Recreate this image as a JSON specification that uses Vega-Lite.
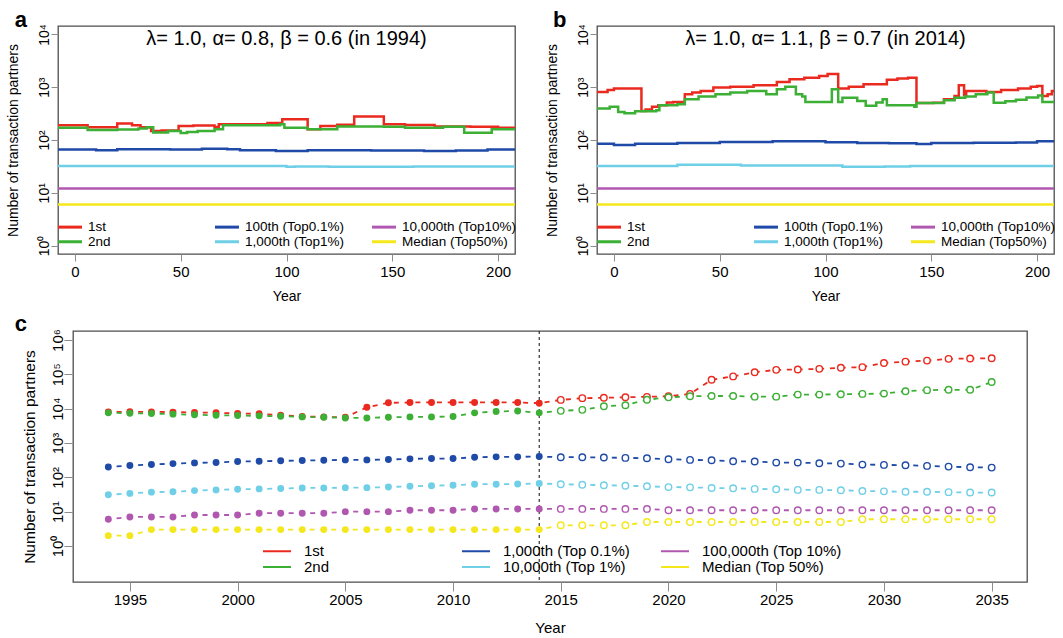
{
"$schema": "https://vega.github.io/schema/vega-lite/v6.json",
"autosize": {"type": "none"},
"padding": {"left": 58, "top": 26, "right": 1005, "bottom": 612},
"background": "white",
"config": {
  "font": "Liberation Sans",
  "view": {"stroke": "#4d4d4d", "strokeWidth": 1.3},
  "axis": {"grid": false, "domain": false, "tickColor": "#8c8c8c", "tickWidth": 1, "labelColor": "#000", "titleColor": "#000", "titleFontWeight": "normal", "labelFont": "Liberation Sans", "titleFont": "Liberation Sans"},
  "legend": {"labelColor": "#000", "labelFont": "Liberation Sans"},
  "title": {"color": "#000", "font": "Liberation Sans"}
},
"datasets": {
"a": [
{"s":"1st","t":-8,"v":191},{"s":"1st","t":6,"v":175},{"s":"1st","t":20,"v":205},{"s":"1st","t":27,"v":190},{"s":"1st","t":31,"v":175},{"s":"1st","t":36,"v":148},{"s":"1st","t":41,"v":152},{"s":"1st","t":49,"v":185},{"s":"1st","t":56,"v":188},{"s":"1st","t":66,"v":176},{"s":"1st","t":68,"v":198},{"s":"1st","t":91,"v":210},{"s":"1st","t":98,"v":246},{"s":"1st","t":110,"v":159},{"s":"1st","t":116,"v":184},{"s":"1st","t":124,"v":195},{"s":"1st","t":132,"v":280},{"s":"1st","t":146,"v":198},{"s":"1st","t":156,"v":192},{"s":"1st","t":170,"v":180},{"s":"1st","t":187,"v":178},{"s":"1st","t":200,"v":170},{"s":"1st","t":208,"v":164},
{"s":"2nd","t":-8,"v":171},{"s":"2nd","t":6,"v":154},{"s":"2nd","t":20,"v":158},{"s":"2nd","t":30,"v":165},{"s":"2nd","t":34,"v":175},{"s":"2nd","t":37,"v":139},{"s":"2nd","t":44,"v":148},{"s":"2nd","t":50,"v":135},{"s":"2nd","t":53,"v":142},{"s":"2nd","t":58,"v":148},{"s":"2nd","t":66,"v":160},{"s":"2nd","t":70,"v":190},{"s":"2nd","t":97,"v":198},{"s":"2nd","t":99,"v":171},{"s":"2nd","t":110,"v":159},{"s":"2nd","t":124,"v":180},{"s":"2nd","t":146,"v":178},{"s":"2nd","t":156,"v":171},{"s":"2nd","t":174,"v":178},{"s":"2nd","t":184,"v":137},{"s":"2nd","t":197,"v":159},{"s":"2nd","t":208,"v":155},
{"s":"100th (Top0.1%)","t":-8,"v":66},{"s":"100th (Top0.1%)","t":10,"v":64},{"s":"100th (Top0.1%)","t":20,"v":67},{"s":"100th (Top0.1%)","t":45,"v":66},{"s":"100th (Top0.1%)","t":60,"v":68},{"s":"100th (Top0.1%)","t":72,"v":67},{"s":"100th (Top0.1%)","t":78,"v":64},{"s":"100th (Top0.1%)","t":95,"v":62},{"s":"100th (Top0.1%)","t":110,"v":64},{"s":"100th (Top0.1%)","t":140,"v":63},{"s":"100th (Top0.1%)","t":165,"v":62},{"s":"100th (Top0.1%)","t":180,"v":63},{"s":"100th (Top0.1%)","t":195,"v":66},{"s":"100th (Top0.1%)","t":208,"v":67},
{"s":"1,000th (Top1%)","t":-8,"v":32},{"s":"1,000th (Top1%)","t":100,"v":31},{"s":"1,000th (Top1%)","t":104,"v":31.5},{"s":"1,000th (Top1%)","t":120,"v":31},{"s":"1,000th (Top1%)","t":160,"v":31.5},{"s":"1,000th (Top1%)","t":208,"v":32},
{"s":"10,000th (Top10%)","t":-8,"v":12},{"s":"10,000th (Top10%)","t":208,"v":12},
{"s":"Median (Top50%)","t":-8,"v":6},{"s":"Median (Top50%)","t":208,"v":6}
],
"b": [
{"s":"1st","t":-8,"v":813},{"s":"1st","t":-3,"v":890},{"s":"1st","t":0,"v":944},{"s":"1st","t":13,"v":355},{"s":"1st","t":15,"v":380},{"s":"1st","t":18,"v":427},{"s":"1st","t":21,"v":455},{"s":"1st","t":25,"v":513},{"s":"1st","t":28,"v":527},{"s":"1st","t":33.5,"v":738},{"s":"1st","t":37,"v":795},{"s":"1st","t":41,"v":850},{"s":"1st","t":47,"v":985},{"s":"1st","t":55,"v":1025},{"s":"1st","t":66,"v":1090},{"s":"1st","t":77,"v":1260},{"s":"1st","t":83,"v":1420},{"s":"1st","t":90,"v":1520},{"s":"1st","t":97,"v":1640},{"s":"1st","t":101,"v":1780},{"s":"1st","t":106,"v":944},{"s":"1st","t":111,"v":1025},{"s":"1st","t":118,"v":1140},{"s":"1st","t":129,"v":1380},{"s":"1st","t":134,"v":1460},{"s":"1st","t":139,"v":1520},{"s":"1st","t":143,"v":500},{"s":"1st","t":151,"v":510},{"s":"1st","t":156,"v":590},{"s":"1st","t":161,"v":685},{"s":"1st","t":163,"v":1095},{"s":"1st","t":165.5,"v":710},{"s":"1st","t":166.5,"v":850},{"s":"1st","t":176,"v":815},{"s":"1st","t":183,"v":890},{"s":"1st","t":191,"v":944},{"s":"1st","t":197,"v":1025},{"s":"1st","t":200,"v":1060},{"s":"1st","t":202.5,"v":685},{"s":"1st","t":205,"v":740},{"s":"1st","t":207,"v":850},{"s":"1st","t":208.6,"v":850},
{"s":"2nd","t":-8,"v":394},{"s":"2nd","t":-2,"v":427},{"s":"2nd","t":2,"v":340},{"s":"2nd","t":5,"v":322},{"s":"2nd","t":10,"v":350},{"s":"2nd","t":20,"v":365},{"s":"2nd","t":21.5,"v":455},{"s":"2nd","t":30,"v":478},{"s":"2nd","t":33.5,"v":590},{"s":"2nd","t":40,"v":665},{"s":"2nd","t":48,"v":738},{"s":"2nd","t":55,"v":795},{"s":"2nd","t":63,"v":850},{"s":"2nd","t":72,"v":738},{"s":"2nd","t":77,"v":915},{"s":"2nd","t":81,"v":1025},{"s":"2nd","t":86,"v":740},{"s":"2nd","t":89,"v":665},{"s":"2nd","t":90.5,"v":527},{"s":"2nd","t":103,"v":915},{"s":"2nd","t":106,"v":527},{"s":"2nd","t":108,"v":630},{"s":"2nd","t":115,"v":550},{"s":"2nd","t":119,"v":445},{"s":"2nd","t":124,"v":513},{"s":"2nd","t":127,"v":590},{"s":"2nd","t":129,"v":455},{"s":"2nd","t":142,"v":427},{"s":"2nd","t":143,"v":500},{"s":"2nd","t":151,"v":505},{"s":"2nd","t":156,"v":565},{"s":"2nd","t":161,"v":630},{"s":"2nd","t":166,"v":665},{"s":"2nd","t":171,"v":738},{"s":"2nd","t":176.5,"v":795},{"s":"2nd","t":179.5,"v":510},{"s":"2nd","t":185,"v":540},{"s":"2nd","t":190,"v":580},{"s":"2nd","t":195,"v":640},{"s":"2nd","t":200.5,"v":700},{"s":"2nd","t":202.5,"v":525},{"s":"2nd","t":208.6,"v":540},
{"s":"100th (Top0.1%)","t":-8,"v":85},{"s":"100th (Top0.1%)","t":0,"v":80},{"s":"100th (Top0.1%)","t":10,"v":85},{"s":"100th (Top0.1%)","t":30,"v":88},{"s":"100th (Top0.1%)","t":50,"v":92},{"s":"100th (Top0.1%)","t":75,"v":95},{"s":"100th (Top0.1%)","t":100,"v":91},{"s":"100th (Top0.1%)","t":115,"v":88},{"s":"100th (Top0.1%)","t":130,"v":87},{"s":"100th (Top0.1%)","t":143,"v":84},{"s":"100th (Top0.1%)","t":150,"v":88},{"s":"100th (Top0.1%)","t":170,"v":89},{"s":"100th (Top0.1%)","t":190,"v":90},{"s":"100th (Top0.1%)","t":200,"v":95},{"s":"100th (Top0.1%)","t":208.6,"v":95},
{"s":"1,000th (Top1%)","t":-8,"v":32},{"s":"1,000th (Top1%)","t":30,"v":34},{"s":"1,000th (Top1%)","t":60,"v":33},{"s":"1,000th (Top1%)","t":108,"v":31},{"s":"1,000th (Top1%)","t":128,"v":31.5},{"s":"1,000th (Top1%)","t":140,"v":32},{"s":"1,000th (Top1%)","t":208.6,"v":32},
{"s":"10,000th (Top10%)","t":-8,"v":12},{"s":"10,000th (Top10%)","t":208.6,"v":12},
{"s":"Median (Top50%)","t":-8,"v":6},{"s":"Median (Top50%)","t":208.6,"v":6}
],
"c": [
{"s":"1st","year":1994,"v":8070},{"s":"1st","year":1995,"v":8130},{"s":"1st","year":1996,"v":8070},{"s":"1st","year":1997,"v":7940},{"s":"1st","year":1998,"v":7760},{"s":"1st","year":1999,"v":7590},{"s":"1st","year":2000,"v":7240},{"s":"1st","year":2001,"v":7080},{"s":"1st","year":2002,"v":6460},{"s":"1st","year":2003,"v":5890},{"s":"1st","year":2004,"v":5750},{"s":"1st","year":2005,"v":5620},{"s":"1st","year":2006,"v":10960},{"s":"1st","year":2007,"v":14790},{"s":"1st","year":2008,"v":15140},{"s":"1st","year":2009,"v":15140},{"s":"1st","year":2010,"v":15140},{"s":"1st","year":2011,"v":15140},{"s":"1st","year":2012,"v":15140},{"s":"1st","year":2013,"v":15140},{"s":"1st","year":2014,"v":14450},{"s":"1st","year":2015,"v":18000},{"s":"1st","year":2016,"v":20230},{"s":"1st","year":2017,"v":20700},{"s":"1st","year":2018,"v":21400},{"s":"1st","year":2019,"v":22100},{"s":"1st","year":2020,"v":23070},{"s":"1st","year":2021,"v":26900},{"s":"1st","year":2022,"v":69200},{"s":"1st","year":2023,"v":87100},{"s":"1st","year":2024,"v":114800},{"s":"1st","year":2025,"v":134900},{"s":"1st","year":2026,"v":138000},{"s":"1st","year":2027,"v":144500},{"s":"1st","year":2028,"v":155000},{"s":"1st","year":2029,"v":162000},{"s":"1st","year":2030,"v":214000},{"s":"1st","year":2031,"v":234000},{"s":"1st","year":2032,"v":251000},{"s":"1st","year":2033,"v":282000},{"s":"1st","year":2034,"v":288000},{"s":"1st","year":2035,"v":295000},
{"s":"2nd","year":1994,"v":7550},{"s":"2nd","year":1995,"v":7390},{"s":"2nd","year":1996,"v":7240},{"s":"2nd","year":1997,"v":6920},{"s":"2nd","year":1998,"v":6620},{"s":"2nd","year":1999,"v":6460},{"s":"2nd","year":2000,"v":6310},{"s":"2nd","year":2001,"v":6170},{"s":"2nd","year":2002,"v":6030},{"s":"2nd","year":2003,"v":5750},{"s":"2nd","year":2004,"v":5620},{"s":"2nd","year":2005,"v":5370},{"s":"2nd","year":2006,"v":5370},{"s":"2nd","year":2007,"v":5620},{"s":"2nd","year":2008,"v":5750},{"s":"2nd","year":2009,"v":5750},{"s":"2nd","year":2010,"v":5890},{"s":"2nd","year":2011,"v":7550},{"s":"2nd","year":2012,"v":8300},{"s":"2nd","year":2013,"v":8500},{"s":"2nd","year":2014,"v":7550},{"s":"2nd","year":2015,"v":8630},{"s":"2nd","year":2016,"v":9230},{"s":"2nd","year":2017,"v":11750},{"s":"2nd","year":2018,"v":12600},{"s":"2nd","year":2019,"v":18200},{"s":"2nd","year":2020,"v":21400},{"s":"2nd","year":2021,"v":22900},{"s":"2nd","year":2022,"v":23400},{"s":"2nd","year":2023,"v":23400},{"s":"2nd","year":2024,"v":22400},{"s":"2nd","year":2025,"v":22400},{"s":"2nd","year":2026,"v":25700},{"s":"2nd","year":2027,"v":25700},{"s":"2nd","year":2028,"v":26300},{"s":"2nd","year":2029,"v":26900},{"s":"2nd","year":2030,"v":27500},{"s":"2nd","year":2031,"v":32200},{"s":"2nd","year":2032,"v":34600},{"s":"2nd","year":2033,"v":35400},{"s":"2nd","year":2034,"v":35400},{"s":"2nd","year":2035,"v":60000},
{"s":"1,000th (Top 0.1%)","year":1994,"v":200},{"s":"1,000th (Top 0.1%)","year":1995,"v":220},{"s":"1,000th (Top 0.1%)","year":1996,"v":235},{"s":"1,000th (Top 0.1%)","year":1997,"v":251},{"s":"1,000th (Top 0.1%)","year":1998,"v":263},{"s":"1,000th (Top 0.1%)","year":1999,"v":269},{"s":"1,000th (Top 0.1%)","year":2000,"v":288},{"s":"1,000th (Top 0.1%)","year":2001,"v":294},{"s":"1,000th (Top 0.1%)","year":2002,"v":302},{"s":"1,000th (Top 0.1%)","year":2003,"v":308},{"s":"1,000th (Top 0.1%)","year":2004,"v":315},{"s":"1,000th (Top 0.1%)","year":2005,"v":322},{"s":"1,000th (Top 0.1%)","year":2006,"v":322},{"s":"1,000th (Top 0.1%)","year":2007,"v":330},{"s":"1,000th (Top 0.1%)","year":2008,"v":345},{"s":"1,000th (Top 0.1%)","year":2009,"v":352},{"s":"1,000th (Top 0.1%)","year":2010,"v":352},{"s":"1,000th (Top 0.1%)","year":2011,"v":385},{"s":"1,000th (Top 0.1%)","year":2012,"v":394},{"s":"1,000th (Top 0.1%)","year":2013,"v":394},{"s":"1,000th (Top 0.1%)","year":2014,"v":403},{"s":"1,000th (Top 0.1%)","year":2015,"v":385},{"s":"1,000th (Top 0.1%)","year":2016,"v":385},{"s":"1,000th (Top 0.1%)","year":2017,"v":377},{"s":"1,000th (Top 0.1%)","year":2018,"v":368},{"s":"1,000th (Top 0.1%)","year":2019,"v":360},{"s":"1,000th (Top 0.1%)","year":2020,"v":337},{"s":"1,000th (Top 0.1%)","year":2021,"v":322},{"s":"1,000th (Top 0.1%)","year":2022,"v":315},{"s":"1,000th (Top 0.1%)","year":2023,"v":294},{"s":"1,000th (Top 0.1%)","year":2024,"v":288},{"s":"1,000th (Top 0.1%)","year":2025,"v":269},{"s":"1,000th (Top 0.1%)","year":2026,"v":269},{"s":"1,000th (Top 0.1%)","year":2027,"v":257},{"s":"1,000th (Top 0.1%)","year":2028,"v":251},{"s":"1,000th (Top 0.1%)","year":2029,"v":235},{"s":"1,000th (Top 0.1%)","year":2030,"v":230},{"s":"1,000th (Top 0.1%)","year":2031,"v":225},{"s":"1,000th (Top 0.1%)","year":2032,"v":215},{"s":"1,000th (Top 0.1%)","year":2033,"v":205},{"s":"1,000th (Top 0.1%)","year":2034,"v":196},{"s":"1,000th (Top 0.1%)","year":2035,"v":192},
{"s":"10,000th (Top 1%)","year":1994,"v":31},{"s":"10,000th (Top 1%)","year":1995,"v":34},{"s":"10,000th (Top 1%)","year":1996,"v":37},{"s":"10,000th (Top 1%)","year":1997,"v":38},{"s":"10,000th (Top 1%)","year":1998,"v":41},{"s":"10,000th (Top 1%)","year":1999,"v":43},{"s":"10,000th (Top 1%)","year":2000,"v":45},{"s":"10,000th (Top 1%)","year":2001,"v":46},{"s":"10,000th (Top 1%)","year":2002,"v":47},{"s":"10,000th (Top 1%)","year":2003,"v":49},{"s":"10,000th (Top 1%)","year":2004,"v":49},{"s":"10,000th (Top 1%)","year":2005,"v":50},{"s":"10,000th (Top 1%)","year":2006,"v":50},{"s":"10,000th (Top 1%)","year":2007,"v":52},{"s":"10,000th (Top 1%)","year":2008,"v":55},{"s":"10,000th (Top 1%)","year":2009,"v":57},{"s":"10,000th (Top 1%)","year":2010,"v":59},{"s":"10,000th (Top 1%)","year":2011,"v":63},{"s":"10,000th (Top 1%)","year":2012,"v":63},{"s":"10,000th (Top 1%)","year":2013,"v":64},{"s":"10,000th (Top 1%)","year":2014,"v":66},{"s":"10,000th (Top 1%)","year":2015,"v":63},{"s":"10,000th (Top 1%)","year":2016,"v":61},{"s":"10,000th (Top 1%)","year":2017,"v":59},{"s":"10,000th (Top 1%)","year":2018,"v":57},{"s":"10,000th (Top 1%)","year":2019,"v":55},{"s":"10,000th (Top 1%)","year":2020,"v":52},{"s":"10,000th (Top 1%)","year":2021,"v":51},{"s":"10,000th (Top 1%)","year":2022,"v":49},{"s":"10,000th (Top 1%)","year":2023,"v":48},{"s":"10,000th (Top 1%)","year":2024,"v":46},{"s":"10,000th (Top 1%)","year":2025,"v":45},{"s":"10,000th (Top 1%)","year":2026,"v":43},{"s":"10,000th (Top 1%)","year":2027,"v":43},{"s":"10,000th (Top 1%)","year":2028,"v":42},{"s":"10,000th (Top 1%)","year":2029,"v":40},{"s":"10,000th (Top 1%)","year":2030,"v":39},{"s":"10,000th (Top 1%)","year":2031,"v":38},{"s":"10,000th (Top 1%)","year":2032,"v":38},{"s":"10,000th (Top 1%)","year":2033,"v":37},{"s":"10,000th (Top 1%)","year":2034,"v":36},{"s":"10,000th (Top 1%)","year":2035,"v":36},
{"s":"100,000th (Top 10%)","year":1994,"v":6},{"s":"100,000th (Top 10%)","year":1995,"v":7},{"s":"100,000th (Top 10%)","year":1996,"v":7},{"s":"100,000th (Top 10%)","year":1997,"v":7},{"s":"100,000th (Top 10%)","year":1998,"v":8},{"s":"100,000th (Top 10%)","year":1999,"v":8},{"s":"100,000th (Top 10%)","year":2000,"v":8},{"s":"100,000th (Top 10%)","year":2001,"v":9},{"s":"100,000th (Top 10%)","year":2002,"v":9},{"s":"100,000th (Top 10%)","year":2003,"v":9},{"s":"100,000th (Top 10%)","year":2004,"v":9},{"s":"100,000th (Top 10%)","year":2005,"v":10},{"s":"100,000th (Top 10%)","year":2006,"v":10},{"s":"100,000th (Top 10%)","year":2007,"v":10},{"s":"100,000th (Top 10%)","year":2008,"v":11},{"s":"100,000th (Top 10%)","year":2009,"v":11},{"s":"100,000th (Top 10%)","year":2010,"v":11},{"s":"100,000th (Top 10%)","year":2011,"v":12},{"s":"100,000th (Top 10%)","year":2012,"v":12},{"s":"100,000th (Top 10%)","year":2013,"v":12},{"s":"100,000th (Top 10%)","year":2014,"v":12},{"s":"100,000th (Top 10%)","year":2015,"v":12},{"s":"100,000th (Top 10%)","year":2016,"v":12},{"s":"100,000th (Top 10%)","year":2017,"v":12},{"s":"100,000th (Top 10%)","year":2018,"v":12},{"s":"100,000th (Top 10%)","year":2019,"v":12},{"s":"100,000th (Top 10%)","year":2020,"v":11},{"s":"100,000th (Top 10%)","year":2021,"v":11},{"s":"100,000th (Top 10%)","year":2022,"v":11},{"s":"100,000th (Top 10%)","year":2023,"v":11},{"s":"100,000th (Top 10%)","year":2024,"v":11},{"s":"100,000th (Top 10%)","year":2025,"v":11},{"s":"100,000th (Top 10%)","year":2026,"v":11},{"s":"100,000th (Top 10%)","year":2027,"v":11},{"s":"100,000th (Top 10%)","year":2028,"v":11},{"s":"100,000th (Top 10%)","year":2029,"v":11},{"s":"100,000th (Top 10%)","year":2030,"v":11},{"s":"100,000th (Top 10%)","year":2031,"v":11},{"s":"100,000th (Top 10%)","year":2032,"v":11},{"s":"100,000th (Top 10%)","year":2033,"v":11},{"s":"100,000th (Top 10%)","year":2034,"v":11},{"s":"100,000th (Top 10%)","year":2035,"v":11},
{"s":"Median (Top 50%)","year":1994,"v":2},{"s":"Median (Top 50%)","year":1995,"v":2},{"s":"Median (Top 50%)","year":1996,"v":3},{"s":"Median (Top 50%)","year":1997,"v":3},{"s":"Median (Top 50%)","year":1998,"v":3},{"s":"Median (Top 50%)","year":1999,"v":3},{"s":"Median (Top 50%)","year":2000,"v":3},{"s":"Median (Top 50%)","year":2001,"v":3},{"s":"Median (Top 50%)","year":2002,"v":3},{"s":"Median (Top 50%)","year":2003,"v":3},{"s":"Median (Top 50%)","year":2004,"v":3},{"s":"Median (Top 50%)","year":2005,"v":3},{"s":"Median (Top 50%)","year":2006,"v":3},{"s":"Median (Top 50%)","year":2007,"v":3},{"s":"Median (Top 50%)","year":2008,"v":3},{"s":"Median (Top 50%)","year":2009,"v":3},{"s":"Median (Top 50%)","year":2010,"v":3},{"s":"Median (Top 50%)","year":2011,"v":3},{"s":"Median (Top 50%)","year":2012,"v":3},{"s":"Median (Top 50%)","year":2013,"v":3},{"s":"Median (Top 50%)","year":2014,"v":3},{"s":"Median (Top 50%)","year":2015,"v":4},{"s":"Median (Top 50%)","year":2016,"v":4},{"s":"Median (Top 50%)","year":2017,"v":4},{"s":"Median (Top 50%)","year":2018,"v":4},{"s":"Median (Top 50%)","year":2019,"v":5},{"s":"Median (Top 50%)","year":2020,"v":5},{"s":"Median (Top 50%)","year":2021,"v":5},{"s":"Median (Top 50%)","year":2022,"v":5},{"s":"Median (Top 50%)","year":2023,"v":5},{"s":"Median (Top 50%)","year":2024,"v":5},{"s":"Median (Top 50%)","year":2025,"v":5},{"s":"Median (Top 50%)","year":2026,"v":5},{"s":"Median (Top 50%)","year":2027,"v":5},{"s":"Median (Top 50%)","year":2028,"v":5},{"s":"Median (Top 50%)","year":2029,"v":6},{"s":"Median (Top 50%)","year":2030,"v":6},{"s":"Median (Top 50%)","year":2031,"v":6},{"s":"Median (Top 50%)","year":2032,"v":6},{"s":"Median (Top 50%)","year":2033,"v":6},{"s":"Median (Top 50%)","year":2034,"v":6},{"s":"Median (Top 50%)","year":2035,"v":6}
]
},
"vconcat": [
 {
  "hconcat": [
   {
    "width": 457, "height": 228,
    "layer": [
     {
      "data": {"name": "a"},
      "mark": {"type": "line", "interpolate": "step-after", "strokeWidth": 2.5, "clip": true},
      "encoding": {
       "x": {"field": "t", "type": "quantitative", "scale": {"domain": [-8, 208], "nice": false, "zero": false},
             "axis": {"values": [0, 50, 100, 150, 200], "title": "Year", "tickSize": 7, "labelFontSize": 15, "labelPadding": 3.5, "titleFontSize": 14, "titlePadding": 10, "labelFlush": false}},
       "y": {"field": "v", "type": "quantitative", "scale": {"type": "log", "domain": [0.692, 14454], "nice": false},
             "axis": {"values": [1, 10, 100, 1000, 10000], "labelExpr": "'10' + ['⁰','¹','²','³','⁴','⁵','⁶'][round(log(datum.value)/LN10)]", "labelAngle": 270, "labelAlign": "center", "labelBaseline": "alphabetic", "labelFontSize": 14, "labelPadding": 3, "tickSize": 7, "title": "Number of transaction partners", "titleFontSize": 14, "titlePadding": 16.5}},
       "color": {"field": "s", "type": "nominal",
                 "scale": {"domain": ["1st", "100th (Top0.1%)", "10,000th (Top10%)", "2nd", "1,000th (Top1%)", "Median (Top50%)"],
                           "range": ["#ea2a1f", "#1f4aa8", "#b058b0", "#3caf35", "#6fcfe6", "#f4e81c"]},
                 "legend": {"orient": "none", "legendX": 5.25, "legendY": 194, "direction": "horizontal", "columns": 3, "title": null, "symbolType": "M-2.4,0H2.4", "symbolSize": 100, "symbolStrokeWidth": 3, "labelFontSize": 13.5, "labelOffset": 11.25, "columnPadding": 6, "rowPadding": 0, "gridAlign": "all", "labelLimit": 0}}
      }
     },
     {
      "data": {"values": [{}]},
      "mark": {"type": "text", "fontSize": 20, "baseline": "middle", "align": "center", "color": "#000"},
      "encoding": {"x": {"datum": 100}, "y": {"datum": 8110}, "text": {"value": "λ= 1.0, α= 0.8, β = 0.6 (in 1994)"}}
     },
     {
      "data": {"values": [{}]},
      "mark": {"type": "text", "fontSize": 22, "fontWeight": "bold", "baseline": "alphabetic", "align": "left", "color": "#000", "clip": false},
      "encoding": {"x": {"datum": -28.4}, "y": {"datum": 14100}, "text": {"value": "a"}}
     }
    ]
   },
   {
    "width": 457, "height": 228,
    "layer": [
     {
      "data": {"name": "b"},
      "mark": {"type": "line", "interpolate": "step-after", "strokeWidth": 2.5, "clip": true},
      "encoding": {
       "x": {"field": "t", "type": "quantitative", "scale": {"domain": [-8, 208], "nice": false, "zero": false},
             "axis": {"values": [0, 50, 100, 150, 200], "title": "Year", "tickSize": 7, "labelFontSize": 15, "labelPadding": 3.5, "titleFontSize": 14, "titlePadding": 10, "labelFlush": false}},
       "y": {"field": "v", "type": "quantitative", "scale": {"type": "log", "domain": [0.692, 14454], "nice": false},
             "axis": {"values": [1, 10, 100, 1000, 10000], "labelExpr": "'10' + ['⁰','¹','²','³','⁴','⁵','⁶'][round(log(datum.value)/LN10)]", "labelAngle": 270, "labelAlign": "center", "labelBaseline": "alphabetic", "labelFontSize": 14, "labelPadding": 3, "tickSize": 7, "title": "Number of transaction partners", "titleFontSize": 14, "titlePadding": 16.5}},
       "color": {"field": "s", "type": "nominal",
                 "scale": {"domain": ["1st", "100th (Top0.1%)", "10,000th (Top10%)", "2nd", "1,000th (Top1%)", "Median (Top50%)"],
                           "range": ["#ea2a1f", "#1f4aa8", "#b058b0", "#3caf35", "#6fcfe6", "#f4e81c"]},
                 "legend": {"orient": "none", "legendX": 5.25, "legendY": 194, "direction": "horizontal", "columns": 3, "title": null, "symbolType": "M-2.4,0H2.4", "symbolSize": 100, "symbolStrokeWidth": 3, "labelFontSize": 13.5, "labelOffset": 11.25, "columnPadding": 6, "rowPadding": 0, "gridAlign": "all", "labelLimit": 0}}
      }
     },
     {
      "data": {"values": [{}]},
      "mark": {"type": "text", "fontSize": 20, "baseline": "middle", "align": "center", "color": "#000"},
      "encoding": {"x": {"datum": 100}, "y": {"datum": 8110}, "text": {"value": "λ= 1.0, α= 1.1, β = 0.7 (in 2014)"}}
     },
     {
      "data": {"values": [{}]},
      "mark": {"type": "text", "fontSize": 22, "fontWeight": "bold", "baseline": "alphabetic", "align": "left", "color": "#000", "clip": false},
      "encoding": {"x": {"datum": -28.8}, "y": {"datum": 14100}, "text": {"value": "b"}}
     }
    ]
   }
  ],
  "spacing": 82,
  "bounds": "flush",
  "resolve": {"scale": {"x": "independent", "y": "independent", "color": "independent"}, "axis": {"x": "independent", "y": "independent"}, "legend": {"color": "independent"}}
 },
 {
  "hconcat": [
   {"width": 1, "height": 1, "data": {"values": [{}]}, "mark": {"type": "point", "opacity": 0}, "view": {"stroke": null}},
   {
    "width": 954, "height": 251,
    "layer": [
     {
      "data": {"values": [{}]},
      "mark": {"type": "rule", "strokeDash": [3, 3], "color": "#222", "strokeWidth": 1.1},
      "encoding": {"x": {"datum": 2014}}
     },
     {
      "data": {"name": "c"},
      "mark": {"type": "line", "strokeDash": [5, 5.77], "strokeDashOffset": 2.5, "strokeWidth": 1.8},
      "encoding": {
       "x": {"field": "year", "type": "quantitative", "scale": {"domain": [1992.36, 2036.64], "nice": false, "zero": false},
             "axis": {"values": [1995, 2000, 2005, 2010, 2015, 2020, 2025, 2030, 2035], "format": "d", "title": "Year", "tickSize": 9, "labelFontSize": 15, "labelPadding": 1, "titleFontSize": 15, "titlePadding": 13, "labelFlush": false}},
       "y": {"field": "v", "type": "quantitative", "scale": {"type": "log", "domain": [0.0893, 1828000], "nice": false},
             "axis": {"values": [1, 10, 100, 1000, 10000, 100000, 1000000], "labelExpr": "'10' + ['⁰','¹','²','³','⁴','⁵','⁶'][round(log(datum.value)/LN10)]", "labelAngle": 270, "labelAlign": "center", "labelBaseline": "alphabetic", "labelFontSize": 15, "labelPadding": 2, "tickSize": 9, "title": "Number of transaction partners", "titleFontSize": 15.5, "titlePadding": 13}},
       "color": {"field": "s", "type": "nominal",
                 "scale": {"domain": ["1st", "1,000th (Top 0.1%)", "100,000th (Top 10%)", "2nd", "10,000th (Top 1%)", "Median (Top 50%)"],
                           "range": ["#ea2a1f", "#1f4aa8", "#b058b0", "#3caf35", "#6fcfe6", "#f4e81c"]},
                 "legend": {"orient": "none", "legendX": 196.5, "legendY": 212.5, "direction": "horizontal", "columns": 3, "title": null, "symbolType": "M-2.8,0H2.8", "symbolSize": 100, "symbolStrokeWidth": 2, "labelFontSize": 15, "labelOffset": 19.5, "columnPadding": 14, "rowPadding": 0, "gridAlign": "all", "labelLimit": 0}}
      }
     },
     {
      "data": {"name": "c"},
      "transform": [{"filter": "datum.year <= 2014"}],
      "mark": {"type": "point", "filled": true, "size": 48, "opacity": 1},
      "encoding": {
       "x": {"field": "year", "type": "quantitative"},
       "y": {"field": "v", "type": "quantitative"},
       "color": {"field": "s", "type": "nominal"}
      }
     },
     {
      "data": {"name": "c"},
      "transform": [{"filter": "datum.year > 2014"}],
      "mark": {"type": "point", "filled": false, "fill": "white", "size": 42, "strokeWidth": 1.4, "opacity": 1},
      "encoding": {
       "x": {"field": "year", "type": "quantitative"},
       "y": {"field": "v", "type": "quantitative"},
       "color": {"field": "s", "type": "nominal"}
      }
     },
     {
      "data": {"values": [{}]},
      "mark": {"type": "text", "fontSize": 22, "fontWeight": "bold", "baseline": "alphabetic", "align": "left", "color": "#000", "clip": false},
      "encoding": {"x": {"datum": 1989.66}, "y": {"datum": 1828000}, "text": {"value": "c"}}
     }
    ]
   }
  ],
  "spacing": 14,
  "bounds": "flush",
  "resolve": {"scale": {"x": "independent", "y": "independent", "color": "independent"}, "axis": {"x": "independent", "y": "independent"}, "legend": {"color": "independent"}}
 }
],
"spacing": 7,
"bounds": "full",
"resolve": {"scale": {"x": "independent", "y": "independent", "color": "independent"}, "axis": {"x": "independent", "y": "independent"}, "legend": {"color": "independent"}}
}
